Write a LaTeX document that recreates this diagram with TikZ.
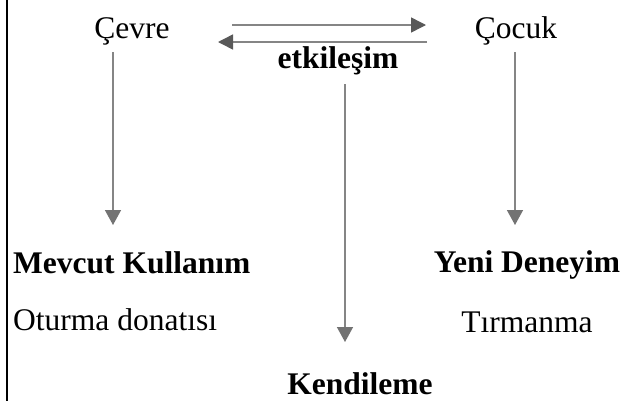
\documentclass[tikz,border=0pt]{standalone}
\usepackage{fontspec}
\setmainfont{Liberation Serif}
\usetikzlibrary{arrows.meta}
\definecolor{linegray}{HTML}{858585}
\definecolor{hheadgray}{HTML}{595959}
\definecolor{vheadgray}{HTML}{737373}
\begin{document}
\begin{tikzpicture}[x=1bp,y=-1bp,
  txt/.style={inner sep=0pt,anchor=base,font=\fontsize{31.5bp}{38bp}\selectfont},
  btxt/.style={txt,font=\fontsize{31.5bp}{38bp}\selectfont\bfseries},
  harrow/.style={draw=linegray,line width=1.5bp,-{Triangle[length=15bp,width=15bp,color=hheadgray]}},
  varrow/.style={draw=linegray,line width=1.5bp,-{Triangle[length=15bp,width=16bp,color=vheadgray]}}]
\useasboundingbox (0,0) rectangle (638,401);
\fill[white] (0,0) rectangle (638,401);
\draw[line width=2.5bp] (7,0) -- (7,401);
% text nodes
\node[txt] (cevre) at (132,38) {Çevre};
\node[txt] (cocuk) at (516,38) {Çocuk};
\node[btxt] (etk) at (338,68) {etkileşim};
\node[btxt,anchor=base west] (mevcut) at (13,273) {Mevcut Kullanım};
\node[txt,anchor=base west] (oturma) at (13,330) {Oturma donatısı};
\node[btxt] (yeni) at (527,272) {Yeni Deneyim};
\node[txt] (tirm) at (527,332) {Tırmanma};
\node[btxt] (kend) at (360,394) {Kendileme};
% connector end points
\coordinate (h1s) at (232,25); \coordinate (h1e) at (426,25);
\coordinate (h2s) at (427,42); \coordinate (h2e) at (218,42);
\coordinate (v1s) at (113,52); \coordinate (v1e) at (113,225);
\coordinate (v2s) at (515,52); \coordinate (v2e) at (515,225);
\coordinate (v3s) at (345,84); \coordinate (v3e) at (345,342);
\draw[harrow] (h1s) -- (h1e);
\draw[harrow] (h2s) -- (h2e);
\draw[varrow] (v1s) -- (v1e);
\draw[varrow] (v2s) -- (v2e);
\draw[varrow] (v3s) -- (v3e);
\end{tikzpicture}
\end{document}
